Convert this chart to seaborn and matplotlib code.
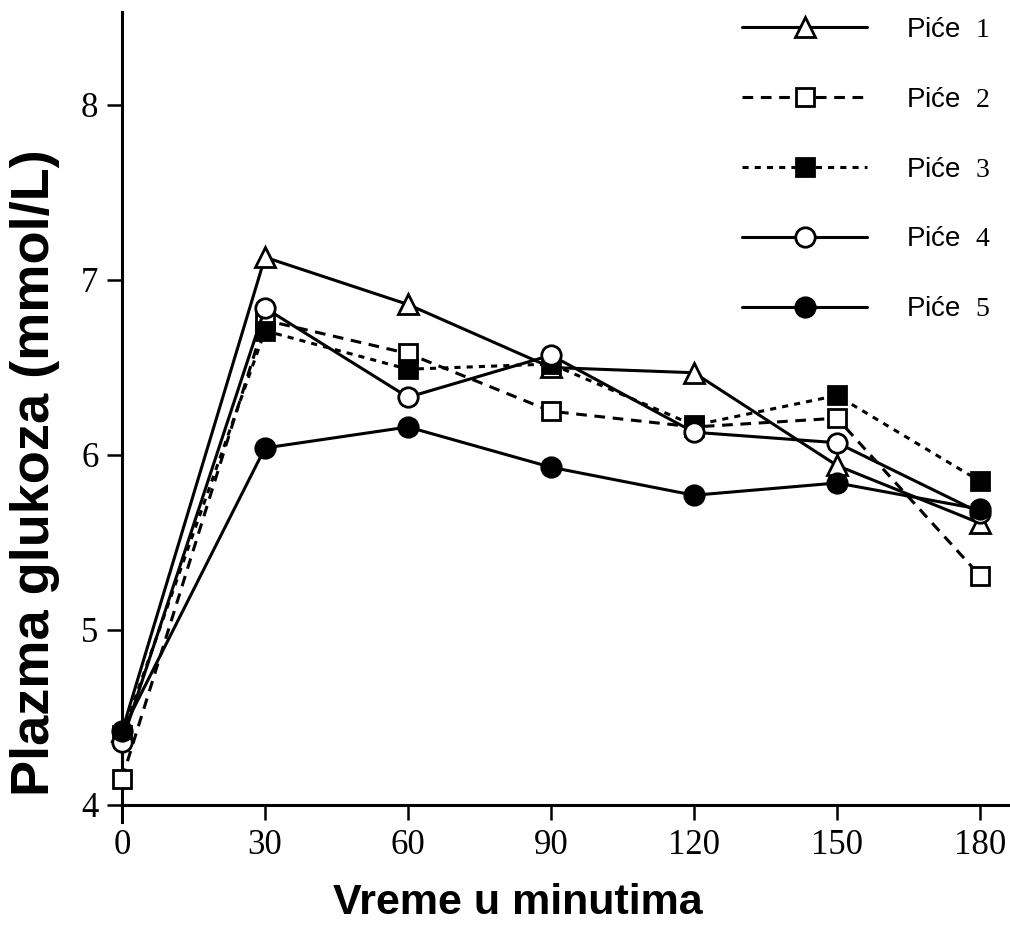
import matplotlib
matplotlib.use("Agg")
import matplotlib.pyplot as plt
import seaborn as sns
import numpy as np
import pandas as pd

# ---- data ----
minutes = [0, 30, 60, 90, 120, 150, 180]
pice1 = [4.42, 7.13, 6.86, 6.50, 6.47, 5.94, 5.61]
pice2 = [4.15, 6.77, 6.58, 6.25, 6.16, 6.21, 5.31]
pice3 = [4.40, 6.71, 6.49, 6.52, 6.17, 6.34, 5.85]
pice4 = [4.36, 6.84, 6.33, 6.57, 6.13, 6.07, 5.67]
pice5 = [4.42, 6.04, 6.16, 5.93, 5.77, 5.84, 5.69]
series_labels = ["Piće  $\\mathrm{1}$", "Piće  $\\mathrm{2}$", "Piće  $\\mathrm{3}$",
                 "Piće  $\\mathrm{4}$", "Piće  $\\mathrm{5}$"]
x_ticks = [0, 30, 60, 90, 120, 150, 180]
y_ticks = [4, 5, 6, 7, 8]
x_label = "Vreme u minutima"
y_label = "Plazma glukoza (mmol/L)"

sns.set_theme(style="ticks")
plt.rcParams["font.family"] = ["Liberation Sans", "DejaVu Sans"]
plt.rcParams["mathtext.fontset"] = "custom"
plt.rcParams["mathtext.rm"] = "Liberation Serif"
plt.rcParams["text.color"] = "black"

fig = plt.figure(figsize=(10.10, 9.34), dpi=100)
ax = fig.add_axes([0.1208, 0.1194, 0.8778, 0.8675])

styles = [
    dict(marker="^", linestyle="-", mfc="white", ms=15),
    dict(marker="s", linestyle=(0, (3.5, 2.5)), mfc="white", ms=13),
    dict(marker="s", linestyle=(0, (2, 2)), mfc="black", ms=13),
    dict(marker="o", linestyle="-", mfc="white", ms=14),
    dict(marker="o", linestyle="-", mfc="black", ms=14),
]
all_series = [pice1, pice2, pice3, pice4, pice5]

for vals, lab, st in zip(all_series, series_labels, styles):
    df = pd.DataFrame({"t": minutes, "g": vals})
    sns.lineplot(data=df, x="t", y="g", ax=ax, color="black", lw=2.2,
                 marker=st["marker"], linestyle=st["linestyle"],
                 markerfacecolor=st["mfc"], markeredgecolor="black",
                 markeredgewidth=2.0, markersize=st["ms"], label=lab,
                 clip_on=False, zorder=3)

ax.spines["top"].set_visible(False)
ax.spines["right"].set_visible(False)
ax.spines["bottom"].set_position(("data", 4))
ax.spines["bottom"].set_linewidth(2.2)
ax.spines["left"].set_linewidth(2.2)
ax.spines["bottom"].set_color("black")
ax.spines["left"].set_color("black")

ax.set_xlim(0, 186)
ax.set_ylim(3.9, 8.53)
ax.set_xticks(x_ticks)
ax.set_yticks(y_ticks)
ax.set_xticklabels([str(v) for v in x_ticks])
ax.set_yticklabels([str(v) for v in y_ticks])
ax.tick_params(axis="both", direction="out", length=11, width=1.8, color="black",
               pad=6, labelcolor="black", labelsize=25)
for t in ax.get_xticklabels() + ax.get_yticklabels():
    t.set_family("Liberation Serif")
ax.set_xlabel("")
ax.set_ylabel("")

fig.text(0.513, 0.033, x_label, ha="center", va="center", fontsize=31,
         fontweight="bold", color="black", family=["Liberation Sans"])
fig.text(0.035, 0.4936, y_label, ha="center", va="center", rotation=90,
         fontsize=39, fontweight="bold", color="black", family=["Liberation Sans"])

leg = ax.legend(loc="upper left", bbox_to_anchor=(0.7347, 0.982),
                bbox_transform=fig.transFigure, frameon=False, fontsize=20,
                handlelength=4.5, handletextpad=1.4, labelspacing=1.58,
                borderpad=0, borderaxespad=0)
for t in leg.get_texts():
    t.set_color("black")

fig.savefig("out.png", dpi=100, facecolor="white")
